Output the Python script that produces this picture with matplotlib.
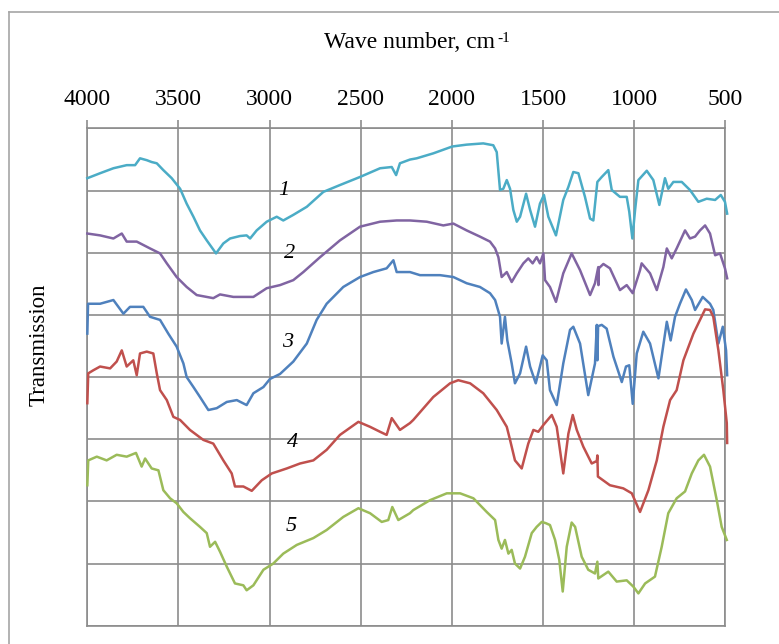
import matplotlib
matplotlib.use("Agg")
import matplotlib.pyplot as plt
from matplotlib.lines import Line2D

plt.rcParams["font.family"] = ["Liberation Serif", "DejaVu Serif"]

# IR spectra, wave number (cm-1) vs. transmission (arbitrary, offset curves)
wn1 = [4000, 3930, 3857, 3784, 3738, 3711, 3674, 3647, 3619, 3583, 3537, 3491, 3455, 3418,
       3382, 3345, 3294, 3254, 3217, 3162, 3126, 3107, 3071, 3016, 2961, 2925, 2870, 2796,
       2705, 2614, 2504, 2394, 2330, 2306, 2285, 2230, 2193, 2102, 1998, 1919, 1828, 1773,
       1754, 1736, 1718, 1699, 1681, 1663, 1644, 1626, 1593, 1571, 1544, 1517, 1495, 1471,
       1429, 1389, 1361, 1334, 1306, 1270, 1242, 1224, 1202, 1178, 1142, 1123, 1078, 1041,
       1027, 1010, 995, 977, 931, 895, 862, 831, 813, 785, 739, 694, 648, 602, 556, 525,
       502, 490]
tr1 = [72.0, 72.8, 73.6, 74.1, 74.1, 75.2, 74.9, 74.6, 74.4, 73.3, 72.0, 70.3, 67.9, 65.8,
       63.6, 62.0, 59.9, 61.5, 62.3, 62.7, 62.8, 62.3, 63.6, 65.0, 65.8, 65.2, 66.1, 67.4,
       69.8, 70.9, 72.2, 73.6, 73.8, 72.5, 74.4, 75.0, 75.2, 76.0, 77.1, 77.4, 77.6, 77.3,
       76.2, 70.1, 70.3, 71.7, 70.3, 66.9, 65.0, 65.8, 69.5, 66.9, 64.2, 67.9, 69.3, 65.8,
       62.8, 68.5, 70.6, 73.0, 72.8, 69.0, 65.5, 65.2, 71.4, 72.2, 73.3, 70.1, 69.0, 69.0,
       66.6, 62.3, 66.9, 71.7, 73.2, 71.7, 67.7, 72.0, 70.3, 71.4, 71.4, 70.1, 68.2, 68.7,
       68.5, 69.3, 68.2, 66.3]

wn2 = [4000, 3930, 3857, 3811, 3784, 3729, 3656, 3601, 3564, 3510, 3455, 3400, 3309, 3272,
       3199, 3089, 3016, 2943, 2870, 2815, 2723, 2614, 2504, 2394, 2303, 2230, 2138, 2047,
       1992, 1919, 1846, 1791, 1763, 1745, 1727, 1699, 1672, 1644, 1608, 1581, 1557, 1535,
       1517, 1498, 1489, 1462, 1429, 1389, 1343, 1297, 1242, 1215, 1197, 1196, 1194, 1169,
       1133, 1078, 1041, 1008, 968, 959, 913, 876, 840, 821, 794, 767, 721, 694, 666, 639,
       611, 584, 556, 529, 502, 490]
tr2 = [63.1, 62.8, 62.3, 63.1, 61.8, 61.8, 60.7, 59.9, 58.3, 56.1, 54.5, 53.2, 52.7, 53.3,
       52.9, 52.9, 54.3, 54.8, 55.6, 56.9, 59.3, 62.0, 64.2, 65.0, 65.2, 65.2, 65.0, 64.4,
       64.7, 63.6, 62.6, 61.8, 60.7, 59.3, 56.1, 56.9, 55.3, 56.7, 58.3, 59.1, 58.3, 59.3,
       58.3, 59.9, 55.6, 54.5, 52.1, 56.7, 59.9, 57.2, 53.2, 55.1, 57.7, 54.8, 57.5, 58.2,
       57.5, 54.0, 54.8, 53.5, 57.2, 58.3, 56.7, 54.0, 57.7, 60.7, 59.1, 60.7, 63.6, 62.3,
       62.6, 63.6, 64.4, 63.1, 59.6, 59.9, 57.5, 55.9]

wn3 = [4000, 3996, 3930, 3857, 3802, 3766, 3693, 3656, 3601, 3556, 3510, 3473, 3455, 3418,
       3382, 3336, 3290, 3235, 3180, 3126, 3089, 3034, 2998, 2943, 2870, 2796, 2742, 2687,
       2596, 2504, 2431, 2358, 2321, 2303, 2230, 2175, 2065, 1992, 1919, 1846, 1791, 1763,
       1736, 1727, 1709, 1696, 1672, 1654, 1626, 1593, 1571, 1540, 1517, 1502, 1480, 1462,
       1425, 1389, 1352, 1334, 1297, 1252, 1215, 1205, 1202, 1198, 1178, 1151, 1114, 1068,
       1045, 1027, 1008, 986, 950, 913, 867, 821, 800, 776, 749, 716, 684, 666, 624, 584,
       566, 538, 514, 496, 490]
tr3 = [47.0, 51.8, 51.8, 52.4, 50.2, 51.3, 51.3, 49.7, 49.2, 47.0, 44.9, 42.2, 40.0, 38.4,
       36.8, 34.7, 35.0, 36.0, 36.3, 35.5, 37.4, 38.4, 39.7, 40.5, 42.5, 45.4, 49.2, 51.8,
       54.5, 56.1, 56.9, 57.5, 58.8, 56.9, 56.9, 56.4, 56.4, 56.1, 55.1, 54.5, 53.5, 52.4,
       49.7, 45.4, 49.7, 45.9, 42.2, 39.0, 40.6, 44.9, 41.7, 39.0, 41.7, 43.5, 42.7, 37.9,
       35.5, 42.2, 47.6, 48.1, 45.4, 37.1, 42.2, 48.4, 42.7, 48.2, 48.4, 47.8, 43.3, 39.2,
       41.7, 41.9, 35.7, 43.8, 47.3, 45.4, 39.8, 48.9, 45.9, 49.7, 51.8, 54.1, 52.4, 50.8,
       52.9, 51.8, 50.8, 45.4, 48.1, 44.3, 40.3]

wn4 = [4000, 3995, 3967, 3930, 3875, 3839, 3811, 3784, 3748, 3729, 3711, 3674, 3638, 3619,
       3601, 3564, 3528, 3491, 3437, 3364, 3309, 3254, 3208, 3190, 3144, 3098, 3043, 2988,
       2906, 2833, 2760, 2687, 2614, 2513, 2449, 2394, 2358, 2330, 2285, 2230, 2212, 2102,
       2010, 1965, 1900, 1828, 1754, 1699, 1681, 1654, 1617, 1581, 1553, 1526, 1498, 1452,
       1425, 1389, 1361, 1337, 1315, 1279, 1233, 1205, 1202, 1199, 1133, 1060, 1013, 968,
       922, 876, 840, 803, 767, 730, 675, 639, 611, 584, 566, 538, 511, 492, 490]
tr4 = [35.8, 40.6, 41.1, 41.7, 41.4, 42.5, 44.3, 41.7, 42.7, 40.3, 43.8, 44.1, 43.8, 40.6,
       37.9, 36.3, 33.6, 33.1, 31.5, 29.9, 29.3, 26.6, 24.5, 22.4, 22.4, 21.7, 23.4, 24.5,
       25.3, 26.1, 26.6, 28.3, 30.7, 32.8, 32.0, 31.2, 30.7, 33.4, 31.5, 32.6, 33.1, 36.8,
       39.0, 39.5, 39.0, 37.4, 34.7, 32.0, 29.9, 26.6, 25.3, 29.3, 31.5, 31.2, 32.3, 33.9,
       32.0, 24.5, 30.9, 33.9, 31.5, 28.8, 26.1, 26.5, 27.4, 24.0, 22.6, 22.1, 21.3, 18.3,
       21.8, 26.6, 32.0, 36.3, 37.9, 42.7, 47.0, 49.2, 50.9, 50.8, 49.7, 44.3, 37.9, 32.6,
       29.4]

wn5 = [4000, 3995, 3948, 3894, 3839, 3784, 3733, 3702, 3683, 3647, 3610, 3583, 3546, 3510,
       3473, 3437, 3382, 3345, 3327, 3299, 3272, 3235, 3190, 3144, 3126, 3089, 3034, 2980,
       2925, 2851, 2760, 2687, 2596, 2513, 2449, 2385, 2349, 2327, 2294, 2230, 2212, 2120,
       2028, 1955, 1882, 1809, 1763, 1745, 1727, 1709, 1690, 1672, 1654, 1626, 1599, 1562,
       1535, 1507, 1485, 1462, 1434, 1411, 1392, 1370, 1343, 1324, 1288, 1252, 1215, 1202,
       1197, 1142, 1096, 1041, 1005, 977, 940, 886, 849, 813, 767, 721, 684, 648, 617, 584,
       547, 520, 492]
tr5 = [22.6, 26.6, 27.2, 26.6, 27.5, 27.2, 27.8, 25.6, 26.9, 25.3, 25.0, 21.8, 20.5, 19.7,
       18.3, 17.3, 15.9, 14.9, 12.7, 13.5, 11.9, 9.5, 6.8, 6.5, 5.7, 6.5, 9.0, 10.0,
       11.6, 13.0, 14.1, 15.4, 17.5, 18.9, 18.1, 16.7, 17.0, 19.1, 17.0, 18.1, 18.6, 20.2,
       21.3, 21.3, 20.5, 18.3, 17.0, 13.8, 12.4, 13.8, 11.6, 12.2, 10.0, 9.2, 11.1, 14.9,
       15.9, 16.7, 16.5, 16.2, 13.8, 10.6, 5.5, 12.7, 16.6, 15.9, 11.1, 9.0, 8.4, 10.3,
       7.6, 8.7, 7.1, 7.3, 6.3, 5.2, 6.8, 7.9, 12.7, 18.1, 20.5, 21.6, 24.5, 26.6, 27.5, 25.6,
       20.2, 15.9, 13.8]

series = [
    (wn1, tr1, "#4bacc6"),
    (wn2, tr2, "#8064a2"),
    (wn3, tr3, "#4f81bd"),
    (wn4, tr4, "#c0504d"),
    (wn5, tr5, "#9bbb59"),
]

# curve numbers and where they sit (wave number, transmission)
curve_labels = ["1", "2", "3", "4", "5"]
label_wn = [2921, 2888, 2899, 2872, 2883]
label_tr = [70.1, 59.9, 45.5, 29.4, 15.9]

grid_color = "#8c8c8c"

fig = plt.figure(figsize=(7.79, 6.44), dpi=100)
ax = fig.add_axes([0.1121, 0.0284, 0.8190, 0.7721])

for wn, tr, col in series:
    ax.plot(wn, tr, color=col, lw=1.8, clip_on=False, zorder=3)

for txt, x, y in zip(curve_labels, label_wn, label_tr):
    ax.text(x, y, txt, fontsize=16, style="italic", ha="center", va="center", zorder=4)

ax.set_xlim(4000, 500)
ax.set_ylim(0, 80)
ax.set_xticks(range(4000, 499, -500))
ax.set_yticks(range(0, 81, 10))
ax.set_yticklabels([])
ax.tick_params(axis="y", length=0)
ax.xaxis.tick_top()
ax.tick_params(axis="x", direction="out", length=6, width=1.2, color=grid_color,
               labelsize=17, pad=7)
ax.grid(True, color=grid_color, lw=1.2)
for sp in ax.spines.values():
    sp.set_color(grid_color)
    sp.set_linewidth(1.2)

# axis title with a raised "-1" (plain hyphen, not a math minus)
fig.text(495.5 / 779, 1 - 48 / 644, "Wave number, cm", fontsize=17,
         ha="right", va="baseline")
fig.text(497 / 779, 1 - 42.5 / 644, "-1", fontsize=11, ha="left", va="baseline")
fig.text(39 / 779, 1 - 345 / 644, "Transmission", fontsize=16.5, rotation=90,
         ha="center", va="center")

# outer chart frame (left and top edges)
fig.add_artist(Line2D([8.5 / 779, 8.5 / 779], [0, 1 - 11.7 / 644], color="#a6a6a6", lw=1.2))
fig.add_artist(Line2D([8.5 / 779, 1], [1 - 11.7 / 644, 1 - 11.7 / 644], color="#a6a6a6", lw=1.2))

fig.savefig("out.png", dpi=100)
